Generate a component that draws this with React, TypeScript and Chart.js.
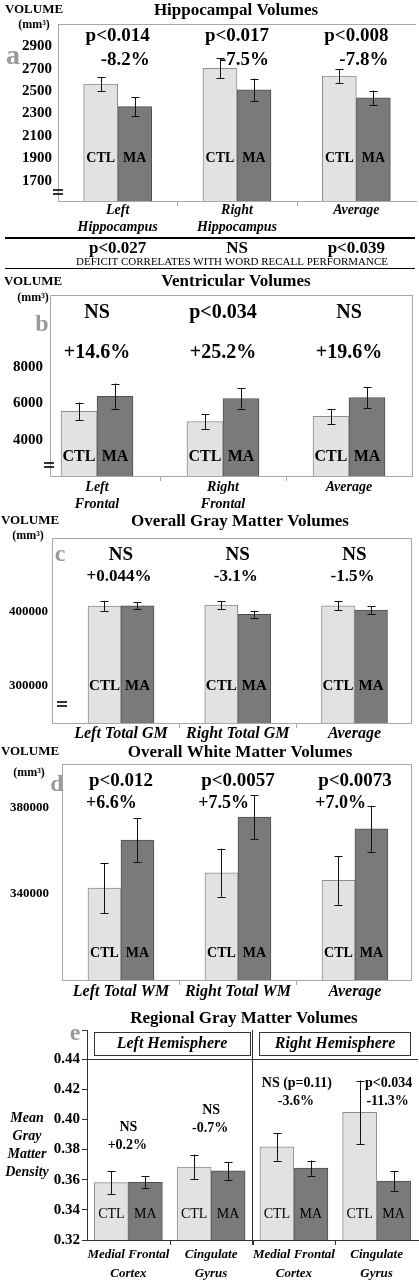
import React, { useEffect, useRef } from "react";
import { Chart, registerables } from "chart.js";

Chart.register(...registerables);

const FONT = '"Liberation Serif", "Times New Roman", Times, serif';

// ===== Panel a: Hippocampal Volumes =====
const hippoCategories = [["Left", "Hippocampus"], ["Right", "Hippocampus"], ["Average"]];
const hippoCTL = [2563, 2704, 2634];
const hippoCTLErr = [62, 90, 60];
const hippoMA = [2362, 2512, 2440];
const hippoMAErr = [85, 100, 65];
const hippoTicks = [1700, 1900, 2100, 2300, 2500, 2700, 2900];
const hippoP = ["p<0.014", "p<0.017", "p<0.008"];
const hippoPct = ["-8.2%", "-7.5%", "-7.8%"];
const hippoRecallP = ["p<0.027", "NS", "p<0.039"];
const hippoRecallNote = "DEFICIT CORRELATES WITH WORD RECALL PERFORMANCE";

// ===== Panel b: Ventricular Volumes =====
const ventCategories = [["Left", "Frontal"], ["Right", "Frontal"], ["Average"]];
const ventCTL = [5570, 5012, 5290];
const ventCTLErr = [485, 410, 420];
const ventMA = [6400, 6280, 6335];
const ventMAErr = [710, 560, 585];
const ventTicks = [4000, 6000, 8000];
const ventP = ["NS", "p<0.034", "NS"];
const ventPct = ["+14.6%", "+25.2%", "+19.6%"];

// ===== Panel c: Overall Gray Matter Volumes =====
const gmCategories = [["Left Total GM"], ["Right Total GM"], ["Average"]];
const gmCTL = [408000, 409500, 408500];
const gmCTLErr = [7000, 5500, 6000];
const gmMA = [408500, 397000, 402500];
const gmMAErr = [4700, 4700, 5000];
const gmTicks = [300000, 400000];
const gmP = ["NS", "NS", "NS"];
const gmPct = ["+0.044%", "-3.1%", "-1.5%"];

// ===== Panel d: Overall White Matter Volumes =====
const wmCategories = [["Left Total WM"], ["Right Total WM"], ["Average"]];
const wmCTL = [342600, 349650, 346100];
const wmCTLErr = [11600, 11100, 11300];
const wmMA = [364800, 375400, 370000];
const wmMAErr = [10200, 10200, 10700];
const wmTicks = [340000, 380000];
const wmP = ["p<0.012", "p<0.0057", "p<0.0073"];
const wmPct = ["+6.6%", "+7.5%", "+7.0%"];

// ===== Panel e: Regional Gray Matter Volumes =====
const rgmCategories = [["Medial Frontal", "Cortex"], ["Cingulate", "Gyrus"], ["Medial Frontal", "Cortex"], ["Cingulate", "Gyrus"]];
const rgmHemispheres = ["Left Hemisphere", "Right Hemisphere"];
const rgmCTL = [0.358, 0.3684, 0.3817, 0.4047];
const rgmCTLErr = [0.0075, 0.0082, 0.0092, 0.021];
const rgmMA = [0.3583, 0.3658, 0.3677, 0.359];
const rgmMAErr = [0.0039, 0.006, 0.005, 0.0065];
const rgmTicks = [0.32, 0.34, 0.36, 0.38, 0.4, 0.42, 0.44];
const rgmP = ["NS", "NS", "NS (p=0.11)", "p<0.034"];
const rgmPct = ["+0.2%", "-0.7%", "-3.6%", "-11.3%"];
const rgmYTitle = ["Mean", "Gray", "Matter", "Density"];

const groupLabels = ["CTL", "MA"];

// ===== Styles =====
const CTL_FILL = "#e2e2e2";
const CTL_EDGE = "#8c8c8c";
const MA_FILL = "#7a7a7a";
const MA_EDGE = "#505050";
const LETTER = "#9a9a9a";
const FRAME = "#a8a8a8";

type TOpts = { bold?: boolean; italic?: boolean; align?: CanvasTextAlign; color?: string };

function setFont(ctx: CanvasRenderingContext2D, size: number, o: TOpts = {}) {
  ctx.font = `${o.italic ? "italic " : ""}${o.bold === false ? "" : "bold "}${size}px ${FONT}`;
}
function T(ctx: CanvasRenderingContext2D, s: string, x: number, y: number, size: number, o: TOpts = {}) {
  ctx.save();
  setFont(ctx, size, o);
  ctx.fillStyle = o.color || "#000";
  ctx.textAlign = o.align || "center";
  ctx.textBaseline = "middle";
  ctx.fillText(s, x, y);
  ctx.restore();
}
function W(ctx: CanvasRenderingContext2D, s: string, size: number, o: TOpts = {}) {
  ctx.save();
  setFont(ctx, size, o);
  const w = ctx.measureText(s).width;
  ctx.restore();
  return w;
}
function L(ctx: CanvasRenderingContext2D, x1: number, y1: number, x2: number, y2: number, lw: number, color: string) {
  ctx.save();
  ctx.strokeStyle = color;
  ctx.lineWidth = lw;
  ctx.beginPath();
  ctx.moveTo(x1, y1);
  ctx.lineTo(x2, y2);
  ctx.stroke();
  ctx.restore();
}
function breakMark(ctx: CanvasRenderingContext2D, cx: number, cy: number) {
  L(ctx, cx - 5, cy - 2, cx + 5, cy - 2, 1.6, "#000");
  L(ctx, cx - 5, cy + 2, cx + 5, cy + 2, 1.6, "#000");
}

type Spec = {
  top: number;
  height: number;
  area: { l: number; t: number; r: number; b: number };
  xMin: number;
  xMax: number;
  yMin: number;
  yMax: number;
  yTicks: number[];
  yFormat: (v: number) => string;
  yFont: number;
  yPad: number;
  yTickMarks?: boolean;
  categories: string[][];
  ctl: number[];
  ctlErr: number[];
  ma: number[];
  maErr: number[];
  barWidth: number;
  xFont: number;
  xPad: number;
  xLine: number;
  axisColor: string;
  frame: "box" | "open" | "none";
  groupY: number;
  groupFont: number;
  groupBold: boolean;
  extras: (ctx: CanvasRenderingContext2D, chart: any) => void;
};

const specs: Spec[] = [
  {
    top: 0,
    height: 275,
    area: { l: 58, t: 24, r: 416, b: 201 },
    xMin: -0.5,
    xMax: 2.5,
    yMin: 1520,
    yMax: 3100,
    yTicks: hippoTicks,
    yFormat: (v) => String(v),
    yFont: 15,
    yPad: 6,
    categories: hippoCategories,
    ctl: hippoCTL,
    ctlErr: hippoCTLErr,
    ma: hippoMA,
    maErr: hippoMAErr,
    barWidth: 34,
    xFont: 14,
    xPad: 1,
    xLine: 1.2,
    axisColor: FRAME,
    frame: "open",
    groupY: 158,
    groupFont: 14,
    groupBold: true,
    extras: (ctx, chart) => {
      const xs = chart.scales.x;
      T(ctx, "Hippocampal Volumes", 236, 11, 17);
      T(ctx, "VOLUME", 34, 10, 13);
      T(ctx, "(mm³)", 34, 25, 12);
      T(ctx, "a", 13, 57, 28, { color: LETTER });
      hippoP.forEach((p, i) => {
        const cx = xs.getPixelForValue(i);
        T(ctx, p, cx, 36, 19);
        const w = W(ctx, p, 19);
        T(ctx, hippoPct[i], cx + w / 2, 60, 19, { align: "right" });
      });
      breakMark(ctx, 58, 192);
      L(ctx, 5, 238, 415, 238, 2, "#000");
      hippoRecallP.forEach((p, i) => T(ctx, p, xs.getPixelForValue(i), 249, 17));
      T(ctx, hippoRecallNote, 232, 262, 11, { bold: false });
      L(ctx, 5, 268.5, 415, 268.5, 1, "#000");
    },
  },
  {
    top: 270,
    height: 245,
    area: { l: 50, t: 295, r: 412, b: 476 },
    xMin: -0.373,
    xMax: 2.5,
    yMin: 2000,
    yMax: 12000,
    yTicks: ventTicks,
    yFormat: (v) => String(v),
    yFont: 15,
    yPad: 7,
    categories: ventCategories,
    ctl: ventCTL,
    ctlErr: ventCTLErr,
    ma: ventMA,
    maErr: ventMAErr,
    barWidth: 36,
    xFont: 14,
    xPad: 3,
    xLine: 1.2,
    axisColor: FRAME,
    frame: "box",
    groupY: 457,
    groupFont: 16,
    groupBold: true,
    extras: (ctx, chart) => {
      const xs = chart.scales.x;
      T(ctx, "Ventricular Volumes", 236, 282, 17);
      T(ctx, "VOLUME", 33, 282, 13);
      T(ctx, "(mm³)", 33, 298, 12);
      T(ctx, "b", 42, 325, 24, { color: LETTER });
      ventP.forEach((p, i) => {
        const cx = xs.getPixelForValue(i);
        T(ctx, p, cx, 313, 20);
        T(ctx, ventPct[i], cx, 353, 20);
      });
      breakMark(ctx, 49, 465);
    },
  },
  {
    top: 500,
    height: 250,
    area: { l: 52, t: 538, r: 411, b: 723 },
    xMin: -0.591,
    xMax: 2.484,
    yMin: 250000,
    yMax: 500000,
    yTicks: gmTicks,
    yFormat: (v) => String(v),
    yFont: 13,
    yPad: 4,
    categories: gmCategories,
    ctl: gmCTL,
    ctlErr: gmCTLErr,
    ma: gmMA,
    maErr: gmMAErr,
    barWidth: 33,
    xFont: 16,
    xPad: 1,
    xLine: 1.2,
    axisColor: FRAME,
    frame: "box",
    groupY: 686,
    groupFont: 15,
    groupBold: true,
    extras: (ctx, chart) => {
      const xs = chart.scales.x;
      T(ctx, "Overall Gray Matter Volumes", 240, 522, 17);
      T(ctx, "VOLUME", 30, 521, 13);
      T(ctx, "(mm³)", 28, 536, 12);
      T(ctx, "c", 60, 555, 24, { color: LETTER });
      gmP.forEach((p, i) => {
        const cx = xs.getPixelForValue(i);
        T(ctx, p, cx, 555, 19);
        T(ctx, gmPct[i], cx - 2, 577, 17);
      });
      breakMark(ctx, 62, 704);
    },
  },
  {
    top: 735,
    height: 275,
    area: { l: 62, t: 764, r: 411, b: 980 },
    xMin: -0.504,
    xMax: 2.479,
    yMin: 300000,
    yMax: 400000,
    yTicks: wmTicks,
    yFormat: (v) => String(v),
    yFont: 13,
    yPad: 13,
    categories: wmCategories,
    ctl: wmCTL,
    ctlErr: wmCTLErr,
    ma: wmMA,
    maErr: wmMAErr,
    barWidth: 33,
    xFont: 16,
    xPad: 2,
    xLine: 1.2,
    axisColor: FRAME,
    frame: "box",
    groupY: 953,
    groupFont: 14,
    groupBold: true,
    extras: (ctx, chart) => {
      const xs = chart.scales.x;
      T(ctx, "Overall White Matter Volumes", 240, 753, 17);
      T(ctx, "VOLUME", 30, 752, 13);
      T(ctx, "(mm³)", 29, 773, 12);
      T(ctx, "d", 57, 785, 24, { color: LETTER });
      wmP.forEach((p, i) => {
        const cx = xs.getPixelForValue(i);
        const w = W(ctx, p, 19);
        T(ctx, p, cx, 781, 19);
        T(ctx, wmPct[i], cx - w / 2 - 3, 803, 18, { align: "left" });
      });
    },
  },
  {
    top: 1000,
    height: 280,
    area: { l: 87, t: 1059, r: 418, b: 1240 },
    xMin: -0.5,
    xMax: 3.5,
    yMin: 0.32,
    yMax: 0.44,
    yTicks: rgmTicks,
    yFormat: (v) => v.toFixed(2),
    yFont: 15,
    yPad: 2,
    yTickMarks: true,
    categories: rgmCategories,
    ctl: rgmCTL,
    ctlErr: rgmCTLErr,
    ma: rgmMA,
    maErr: rgmMAErr,
    barWidth: 34,
    xFont: 13,
    xPad: 6,
    xLine: 1.4,
    axisColor: "#333",
    frame: "none",
    groupY: 1214,
    groupFont: 14,
    groupBold: false,
    extras: (ctx, chart) => {
      const xs = chart.scales.x;
      T(ctx, "Regional Gray Matter Volumes", 244, 1019, 17);
      T(ctx, "e", 75, 1034, 24, { color: LETTER });
      ctx.save();
      ctx.strokeStyle = "#333";
      ctx.lineWidth = 1;
      ctx.strokeRect(94.5, 1032.5, 156, 23);
      ctx.strokeRect(259.5, 1032.5, 151, 23);
      ctx.restore();
      T(ctx, rgmHemispheres[0], 172, 1044, 16, { italic: true });
      T(ctx, rgmHemispheres[1], 335, 1044, 16, { italic: true });
      L(ctx, 87.5, 1030, 87.5, 1240, 1, "#333");
      L(ctx, 82, 1030.5, 87.5, 1030.5, 1, "#333");
      L(ctx, 252.5, 1030, 252.5, 1245, 1, "#333");
      L(ctx, 82, 1059.5, 418, 1059.5, 1, "#333");
      rgmYTitle.forEach((s, k) => T(ctx, s, 27, 1118 + 18 * k, 14, { italic: true }));
      const annY = [1127, 1110, 1083, 1083];
      const annDX = [0, 0, 3, 12];
      rgmP.forEach((p, i) => {
        const cx = xs.getPixelForValue(i) + annDX[i];
        T(ctx, p, cx, annY[i], 14);
        T(ctx, rgmPct[i], cx - 1, annY[i] + 18, 14);
      });
    },
  },
];

function Panel({ spec }: { spec: Spec }) {
  const ref = useRef<HTMLCanvasElement>(null);
  useEffect(() => {
    const s = spec;
    const canvas = ref.current!;
    const cats = s.categories;
    const plugin = {
      id: "panelExtras",
      afterDatasetsDraw(chart: any) {
        const ctx = chart.ctx as CanvasRenderingContext2D;
        const ys = chart.scales.y;
        // error bars
        [0, 1].forEach((d) => {
          const meta = chart.getDatasetMeta(d);
          const vals = d === 0 ? s.ctl : s.ma;
          const errs = d === 0 ? s.ctlErr : s.maErr;
          meta.data.forEach((el: any, i: number) => {
            const x = Math.round(el.x) + 0.5;
            const y1 = ys.getPixelForValue(vals[i] + errs[i]);
            const y2 = ys.getPixelForValue(vals[i] - errs[i]);
            L(ctx, x, y1, x, y2, 1, "#111");
            L(ctx, x - 4, Math.round(y1) + 0.5, x + 4, Math.round(y1) + 0.5, 1, "#111");
            L(ctx, x - 4, Math.round(y2) + 0.5, x + 4, Math.round(y2) + 0.5, 1, "#111");
          });
        });
        // frame
        const a = chart.chartArea;
        if (s.frame === "box" || s.frame === "open") {
          L(ctx, a.left, Math.round(a.top) + 0.5, a.right, Math.round(a.top) + 0.5, 1, FRAME);
        }
        if (s.frame === "box") {
          L(ctx, Math.round(a.right) + 0.5, a.top, Math.round(a.right) + 0.5, a.bottom, 1, FRAME);
        }
        // boundary tick marks under x axis
        const xs = chart.scales.x;
        for (let i = 0; i < cats.length - 1; i++) {
          const bx = Math.round(xs.getPixelForValue(i + 0.5)) + 0.5;
          L(ctx, bx, a.bottom, bx, a.bottom + 5, 1, s.axisColor);
        }
      },
      afterDraw(chart: any) {
        const ctx = chart.ctx as CanvasRenderingContext2D;
        ctx.save();
        ctx.translate(0, -s.top);
        [0, 1].forEach((d) => {
          const meta = chart.getDatasetMeta(d);
          meta.data.forEach((el: any) => {
            T(ctx, groupLabels[d], el.x, s.groupY, s.groupFont, { bold: s.groupBold });
          });
        });
        s.extras(ctx, chart);
        ctx.restore();
      },
    };
    const chart = new Chart(canvas, {
      type: "bar",
      data: {
        datasets: [
          {
            label: groupLabels[0],
            data: s.ctl.map((v, i) => ({ x: i, y: v })),
            backgroundColor: CTL_FILL,
            borderColor: CTL_EDGE,
            borderWidth: 1,
            borderSkipped: "bottom",
            barThickness: s.barWidth,
          },
          {
            label: groupLabels[1],
            data: s.ma.map((v, i) => ({ x: i, y: v })),
            backgroundColor: MA_FILL,
            borderColor: MA_EDGE,
            borderWidth: 1,
            borderSkipped: "bottom",
            barThickness: s.barWidth,
          },
        ],
      } as any,
      options: {
        responsive: false,
        animation: false,
        devicePixelRatio: 1,
        layout: {
          padding: { left: 0, top: s.area.t - s.top, right: 419 - s.area.r, bottom: 0 },
        },
        plugins: {
          legend: { display: false },
          tooltip: { enabled: false },
          title: { display: false },
        },
        scales: {
          x: {
            type: "linear",
            bounds: "data",
            min: s.xMin,
            max: s.xMax,
            offset: false,
            grid: { display: false, drawTicks: false },
            border: { display: true, color: s.axisColor, width: 1 },
            ticks: {
              padding: s.xPad,
              color: "#000",
              maxRotation: 0,
              autoSkip: false,
              font: { family: FONT, size: s.xFont, weight: "bold", style: "italic", lineHeight: s.xLine },
              callback: (v: any) => cats[v] ?? "",
            },
            afterBuildTicks: (ax: any) => {
              ax.ticks = cats.map((_, i) => ({ value: i }));
            },
            afterFit: (ax: any) => {
              ax.height = s.top + s.height - s.area.b;
            },
          },
          y: {
            type: "linear",
            bounds: "data",
            min: s.yMin,
            max: s.yMax,
            grid: s.yTickMarks
              ? { display: true, drawOnChartArea: false, drawTicks: true, tickLength: 5, color: "#333" }
              : { display: false, drawTicks: false },
            border: { display: true, color: s.axisColor, width: 1 },
            ticks: {
              padding: s.yPad,
              color: "#000",
              autoSkip: false,
              font: { family: FONT, size: s.yFont, weight: "bold" },
              callback: (v: any) => s.yFormat(Number(v)),
            },
            afterBuildTicks: (ax: any) => {
              ax.ticks = s.yTicks.map((v) => ({ value: v }));
            },
            afterFit: (ax: any) => {
              ax.width = s.area.l;
            },
          },
        },
      } as any,
      plugins: [plugin],
    });
    return () => chart.destroy();
  }, [spec]);
  return (
    <canvas
      ref={ref}
      width={419}
      height={spec.height}
      style={{ position: "absolute", left: 0, top: spec.top, width: 419, height: spec.height }}
    />
  );
}

export default function App() {
  useEffect(() => {
    document.body.style.margin = "0";
    document.body.style.background = "#fff";
  }, []);
  return (
    <div style={{ position: "relative", width: 419, height: 1280, background: "#fff", overflow: "hidden" }}>
      {specs.map((s, i) => (
        <Panel key={i} spec={s} />
      ))}
    </div>
  );
}
